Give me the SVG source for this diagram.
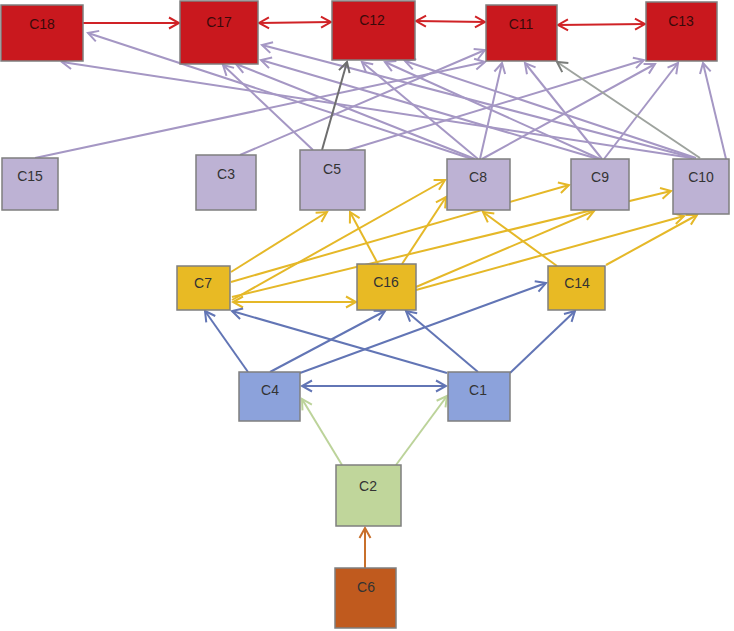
<svg xmlns="http://www.w3.org/2000/svg" width="734" height="631" viewBox="0 0 734 631">
<style>
.n rect{stroke:#7f7f7f;stroke-width:1.5}
.n text{font-family:"Liberation Sans",Arial,sans-serif;font-size:14px;fill:#333;text-anchor:middle}
.red rect{fill:#C9181E}
.red text{fill:#3a0a0a}
.pur rect{fill:#BDB2D4}
.yel rect{fill:#E8BA24}
.blu rect{fill:#8CA2DB}
.grn rect{fill:#C0D69B}
.brn rect{fill:#C05A1E}
.e line{fill:none;stroke-width:2}
.ep{stroke:#A597C4;marker-end:url(#mp)}
.egr{stroke:#6e6e6e;marker-end:url(#mg)}
.egg{stroke:#9ea39e;marker-end:url(#mgg)}
.er{stroke:#D02226;marker-end:url(#mr)}
.er2{stroke:#D02226;marker-end:url(#mr);marker-start:url(#mr)}
.ey{stroke:#E5B828;marker-end:url(#my)}
.ey2{stroke:#E5B828;marker-end:url(#my);marker-start:url(#my)}
.eb{stroke:#6275B5;marker-end:url(#mb)}
.eb2{stroke:#6275B5;marker-end:url(#mb);marker-start:url(#mb)}
.eg{stroke:#BCD39A;marker-end:url(#mgn)}
.eo{stroke:#C8702B;marker-end:url(#mo)}
</style>
<defs>
<marker id="mp" viewBox="-12 -8 14 16" refX="0" refY="0" markerWidth="14" markerHeight="16" markerUnits="userSpaceOnUse" orient="auto-start-reverse"><path d="M-10,-5.5 L0,0 L-10,5.5" fill="none" stroke="#A597C4" stroke-width="2"/></marker>
<marker id="mg" viewBox="-12 -8 14 16" refX="0" refY="0" markerWidth="14" markerHeight="16" markerUnits="userSpaceOnUse" orient="auto-start-reverse"><path d="M-10,-5.5 L0,0 L-10,5.5" fill="none" stroke="#6e6e6e" stroke-width="2"/></marker>
<marker id="mgg" viewBox="-12 -8 14 16" refX="0" refY="0" markerWidth="14" markerHeight="16" markerUnits="userSpaceOnUse" orient="auto-start-reverse"><path d="M-10,-5.5 L0,0 L-10,5.5" fill="none" stroke="#7a7d7a" stroke-width="2"/></marker>
<marker id="mr" viewBox="-12 -8 14 16" refX="0" refY="0" markerWidth="14" markerHeight="16" markerUnits="userSpaceOnUse" orient="auto-start-reverse"><path d="M-10,-5.5 L0,0 L-10,5.5" fill="none" stroke="#D02226" stroke-width="2"/></marker>
<marker id="my" viewBox="-12 -8 14 16" refX="0" refY="0" markerWidth="14" markerHeight="16" markerUnits="userSpaceOnUse" orient="auto-start-reverse"><path d="M-10,-5.5 L0,0 L-10,5.5" fill="none" stroke="#E5B828" stroke-width="2"/></marker>
<marker id="mb" viewBox="-12 -8 14 16" refX="0" refY="0" markerWidth="14" markerHeight="16" markerUnits="userSpaceOnUse" orient="auto-start-reverse"><path d="M-10,-5.5 L0,0 L-10,5.5" fill="none" stroke="#6275B5" stroke-width="2"/></marker>
<marker id="mgn" viewBox="-12 -8 14 16" refX="0" refY="0" markerWidth="14" markerHeight="16" markerUnits="userSpaceOnUse" orient="auto-start-reverse"><path d="M-10,-5.5 L0,0 L-10,5.5" fill="none" stroke="#BCD39A" stroke-width="2"/></marker>
<marker id="mo" viewBox="-12 -8 14 16" refX="0" refY="0" markerWidth="14" markerHeight="16" markerUnits="userSpaceOnUse" orient="auto-start-reverse"><path d="M-10,-5.5 L0,0 L-10,5.5" fill="none" stroke="#C8702B" stroke-width="2"/></marker>
</defs>
<rect width="734" height="631" fill="#fff"/>
<g id="connectors" class="e">
<!-- red top row -->
<line class="er" x1="83" y1="23" x2="179" y2="23"/>
<line class="er2" x1="259" y1="23" x2="331" y2="22"/>
<line class="er2" x1="416" y1="21" x2="485" y2="22"/>
<line class="er2" x1="558" y1="25" x2="645" y2="24"/>
<!-- purple level 2 to level 1 -->
<line class="ep" x1="35" y1="158" x2="485" y2="62"/>
<line class="ep" x1="240" y1="155" x2="485" y2="50"/>
<line class="ep" x1="313" y1="150" x2="223" y2="65"/>
<line class="ep" x1="342" y1="152" x2="644" y2="60"/>
<line class="ep" x1="472" y1="159" x2="88" y2="33"/>
<line class="ep" x1="692" y1="158" x2="62" y2="62"/>
<line class="ep" x1="694" y1="158" x2="262" y2="45"/>
<line class="ep" x1="598" y1="159" x2="261" y2="60"/>
<line class="ep" x1="475" y1="159" x2="236" y2="64"/>
<line class="ep" x1="478" y1="159" x2="362" y2="62"/>
<line class="ep" x1="600" y1="159" x2="385" y2="62"/>
<line class="ep" x1="696" y1="158" x2="405" y2="61"/>
<line class="ep" x1="480" y1="159" x2="502" y2="63"/>
<line class="ep" x1="602" y1="159" x2="525" y2="63"/>
<line class="ep" x1="482" y1="159" x2="655" y2="64"/>
<line class="ep" x1="604" y1="159" x2="678" y2="63"/>
<line class="ep" x1="726" y1="159" x2="703" y2="63"/>
<line class="egr" x1="322" y1="150" x2="347" y2="62"/>
<line class="egg" x1="700" y1="158" x2="557" y2="62"/>
<!-- yellow level 3 to level 2 -->
<line class="ey" x1="231" y1="272" x2="327" y2="212"/>
<line class="ey" x1="232" y1="300" x2="445" y2="180"/>
<line class="ey" x1="231" y1="282" x2="569" y2="185"/>
<line class="ey" x1="232" y1="297" x2="671" y2="191"/>
<line class="ey2" x1="233" y1="302" x2="356" y2="302"/>
<line class="ey" x1="378" y1="264" x2="350" y2="212"/>
<line class="ey" x1="402" y1="264" x2="446" y2="197"/>
<line class="ey" x1="416" y1="287" x2="594" y2="211"/>
<line class="ey" x1="416" y1="290" x2="684" y2="216"/>
<line class="ey" x1="557" y1="266" x2="483" y2="212"/>
<line class="ey" x1="606" y1="265" x2="697" y2="215"/>
<!-- blue level 4 to level 3 -->
<line class="eb" x1="248" y1="372" x2="205" y2="311"/>
<line class="eb" x1="270" y1="372" x2="385" y2="311"/>
<line class="eb" x1="300" y1="373" x2="546" y2="283"/>
<line class="eb" x1="447" y1="373" x2="232" y2="311"/>
<line class="eb" x1="478" y1="372" x2="406" y2="311"/>
<line class="eb" x1="510" y1="373" x2="575" y2="311"/>
<line class="eb2" x1="302" y1="386" x2="446" y2="386"/>
<!-- green and orange -->
<line class="eg" x1="342" y1="465" x2="302" y2="399"/>
<line class="eg" x1="396" y1="465" x2="447" y2="396"/>
<line class="eo" x1="365" y1="568" x2="365" y2="528"/>
</g>
<g id="C18" class="n red"><rect x="1" y="5" width="82" height="56"/><text x="42" y="29">C18</text></g>
<g id="C17" class="n red"><rect x="180" y="1" width="78" height="63"/><text x="219" y="27">C17</text></g>
<g id="C12" class="n red"><rect x="332" y="1" width="83" height="59"/><text x="372" y="25">C12</text></g>
<g id="C11" class="n red"><rect x="486" y="5" width="71" height="56"/><text x="521" y="29">C11</text></g>
<g id="C13" class="n red"><rect x="646" y="2" width="71" height="59"/><text x="681" y="26">C13</text></g>
<g id="C15" class="n pur"><rect x="2" y="158" width="56" height="52"/><text x="30" y="181">C15</text></g>
<g id="C3" class="n pur"><rect x="196" y="155" width="60" height="55"/><text x="226" y="179">C3</text></g>
<g id="C5" class="n pur"><rect x="300" y="150" width="65" height="60"/><text x="332" y="174">C5</text></g>
<g id="C8" class="n pur"><rect x="447" y="159" width="63" height="51"/><text x="478" y="182">C8</text></g>
<g id="C9" class="n pur"><rect x="571" y="159" width="58" height="51"/><text x="600" y="182">C9</text></g>
<g id="C10" class="n pur"><rect x="673" y="159" width="56" height="55"/><text x="701" y="182">C10</text></g>
<g id="C7" class="n yel"><rect x="177" y="266" width="53" height="44"/><text x="203" y="288">C7</text></g>
<g id="C16" class="n yel"><rect x="357" y="264" width="59" height="46"/><text x="386" y="287">C16</text></g>
<g id="C14" class="n yel"><rect x="548" y="266" width="57" height="44"/><text x="577" y="288">C14</text></g>
<g id="C4" class="n blu"><rect x="239" y="372" width="61" height="49"/><text x="270" y="395">C4</text></g>
<g id="C1" class="n blu"><rect x="448" y="372" width="62" height="49"/><text x="478" y="395">C1</text></g>
<g id="C2" class="n grn"><rect x="336" y="465" width="65" height="61"/><text x="368" y="491">C2</text></g>
<g id="C6" class="n brn"><rect x="335" y="568" width="61" height="60"/><text x="366" y="592">C6</text></g>
</svg>
